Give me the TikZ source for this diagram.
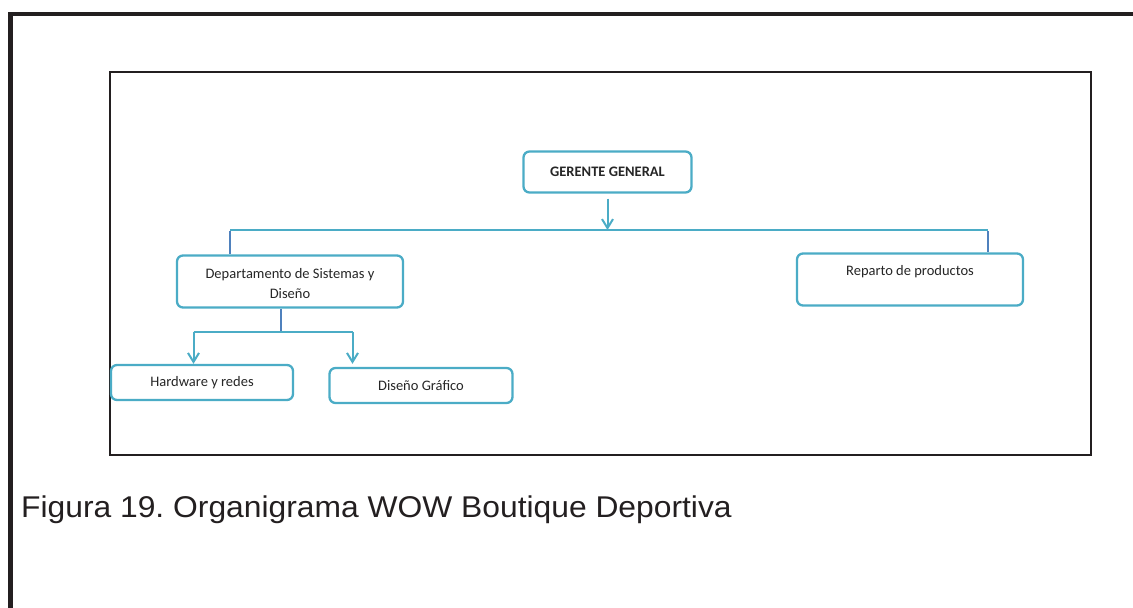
\documentclass[tikz,border=0pt]{standalone}
\usepackage{fontspec}
\setmainfont{Carlito}
\newfontfamily\capfont{Liberation Sans}
\usetikzlibrary{arrows.meta,calc}
\frenchspacing
\definecolor{teal1}{HTML}{4BACC6}
\definecolor{blue1}{HTML}{4F81BD}
\definecolor{frame1}{HTML}{231F20}
\tikzset{
  boxfont/.style={font=\fontsize{14.5}{20}\selectfont, text=black!85},
  box/.style={draw=teal1, line width=2.3pt, rounded corners=6pt, fill=white, inner sep=0pt, align=center, boxfont},
  conn/.style={draw=teal1, line width=2pt},
  drop/.style={draw=blue1, line width=2pt},
  arr/.style={conn, -{Straight Barb[length=9pt, width=11pt, line width=2pt]}},
}
\begin{document}
\begin{tikzpicture}[x=1pt, y=-1pt]
\useasboundingbox (0,0) rectangle (1133,608);
\clip (0,0) rectangle (1133,608);
% outer frame
\draw[frame1, line width=4.5pt] (10.5,640) -- (10.5,14) -- (1160,14);
% inner frame
\node[draw=frame1, line width=2pt, minimum width=981pt, minimum height=383pt, inner sep=0pt] (panel) at (600.5,263.5) {};
% boxes
\node[box, minimum width=168pt, minimum height=41pt] (gg) at (607.5,172) {\bfseries GERENTE GENERAL};
\node[box, minimum width=226pt, minimum height=52pt] (dep) at (290,281.5) {};
\node[boxfont, align=center] (deptext) at (290,284) {Departamento de Sistemas y\\[0pt]Diseño};
\node[box, minimum width=226pt, minimum height=52pt] (rep) at (910,279.5) {};
\node[boxfont] (reptext) at (910,272) {Reparto de productos};
\node[box, minimum width=182pt, minimum height=35pt] (hw) at (202,382.5) {Hardware y redes};
\node[box, minimum width=183pt, minimum height=35pt] (dg) at (421,385.5) {Diseño Gráfico};
% level 1 connectors
\coordinate (bar1) at (607.5,230);
\coordinate (bl) at (230,230);
\coordinate (br) at (988,230);
\draw[conn] (bl) -- (br);
\draw[arr] ($(gg.south)+(0,5)$) -- (bar1);
\draw[drop] ($(bl)+(0,1)$) -- (bl |- dep.north);
\draw[drop] ($(br)+(0,1)$) -- (br |- rep.north);
% level 2 connectors
\coordinate (bar2) at (281,332);
\coordinate (b2l) at (193.5,332);
\coordinate (b2r) at (352.5,332);
\draw[drop] (bar2 |- dep.south) -- (bar2);
\draw[conn] (b2l) -- (b2r);
\draw[arr] (b2l) -- (b2l |- hw.north);
\draw[arr] (b2r) -- ($(b2r |- dg.north)+(0,-3)$);
% caption
\node[anchor=base west, font=\capfont\fontsize{30}{34}\selectfont, text=frame1, inner sep=0pt] (cap) at (21,517) {\scalebox{1.06}[1]{Figura 19. Organigrama WOW Boutique Deportiva}};
\end{tikzpicture}
\end{document}
